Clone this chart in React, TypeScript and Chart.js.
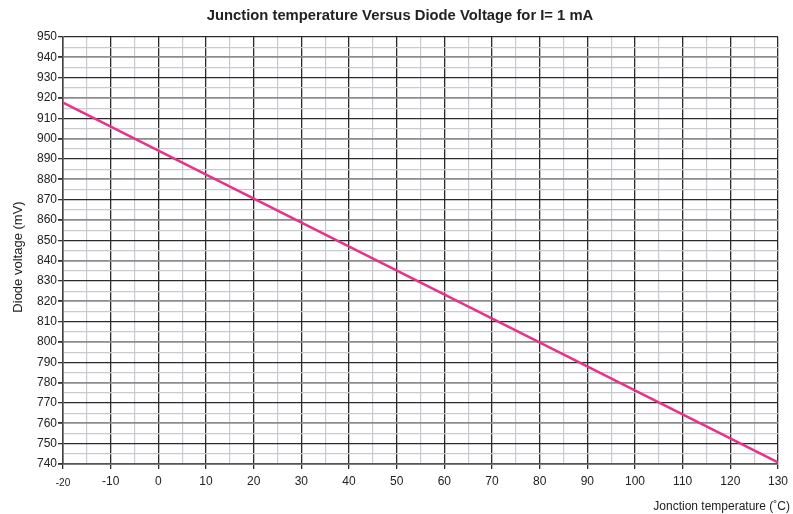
import React, { useEffect, useRef } from "react";
import { Chart, registerables } from "chart.js";

Chart.register(...registerables);

// ---- data ----
const temperatures: number[] = [-20, 130]; // °C
const diodeVoltages: number[] = [917.7, 740.8]; // mV

const chartTitle = "Junction temperature Versus Diode Voltage for I= 1 mA";
const xTitle = "Jonction temperature (˚C)";
const yTitle = "Diode voltage (mV)";

const xMin = -20;
const xMax = 130;
const yMin = 740;
const yMax = 950;

const FONT = "'Liberation Sans', Arial, Helvetica, sans-serif";
const LINE_COLOR = "#e8308c";
const MAJOR_DARK = "#2b2b2b";
const MAJOR_GRAY = "#8c8c8c";
const MINOR = "#c8cad2";

const axisTitles = {
  id: "axisTitles",
  afterDraw(chart: any) {
    const ctx = chart.ctx as CanvasRenderingContext2D;
    ctx.save();
    ctx.fillStyle = "#222";
    ctx.font = `12px ${FONT}`;
    ctx.textAlign = "right";
    ctx.textBaseline = "middle";
    ctx.fillText(xTitle, 790, 507);
    ctx.translate(18, 257);
    ctx.rotate(-Math.PI / 2);
    ctx.textAlign = "center";
    ctx.font = `13px ${FONT}`;
    ctx.fillText(yTitle, 0, 0);
    ctx.restore();
  },
};

export default function App() {
  const ref = useRef<HTMLCanvasElement | null>(null);

  useEffect(() => {
    if (!ref.current) return;
    const points = temperatures.map((t, i) => ({ x: t, y: diodeVoltages[i] }));
    const chart = new Chart(ref.current, {
      type: "line",
      data: {
        datasets: [
          {
            data: points,
            borderColor: LINE_COLOR,
            borderWidth: 2.6,
            pointRadius: 0,
            fill: false,
            tension: 0,
          },
        ],
      },
      options: {
        animation: false,
        responsive: false,
        devicePixelRatio: 1,
        layout: { padding: { left: 21, right: 14, top: 0, bottom: 0 } },
        plugins: {
          legend: { display: false },
          tooltip: { enabled: false },
          title: {
            display: true,
            text: chartTitle,
            color: "#222",
            font: { family: FONT, size: 14.8, weight: "bold" },
            padding: { top: 7, bottom: 12.2 },
          },
        },
        scales: {
          x: {
            type: "linear",
            min: xMin,
            max: xMax,
            afterFit: (scale: any) => {
              scale.height = 50;
            },
            ticks: {
              stepSize: 5,
              autoSkip: false,
              maxRotation: 0,
              padding: 5,
              color: "#222",
              font: (c: any) =>
                c.tick && c.tick.value === -20
                  ? { family: FONT, size: 10, lineHeight: 1.8 }
                  : { family: FONT, size: 12 },
              callback: (v: any) => (Number(v) % 10 === 0 ? String(v) : ""),
            },
            grid: {
              color: (c: any) =>
                c.tick && c.tick.value % 10 === 0 ? MAJOR_DARK : MINOR,
              lineWidth: (c: any) =>
                c.tick && c.tick.value % 10 === 0 ? 1.3 : 1.2,
              tickColor: (c: any) =>
                c.tick && c.tick.value % 10 === 0 ? MAJOR_DARK : "rgba(0,0,0,0)",
              tickLength: 5,
            },
            border: { color: "#555", width: 1.5 },
          },
          y: {
            type: "linear",
            min: yMin,
            max: yMax,
            afterFit: (scale: any) => {
              scale.width = 42;
            },
            ticks: {
              stepSize: 5,
              autoSkip: false,
              padding: 1,
              color: "#222",
              font: { family: FONT, size: 12 },
              callback: (v: any) => (Number(v) % 10 === 0 ? String(v) : ""),
            },
            grid: {
              color: (c: any) => {
                const v = c.tick ? c.tick.value : 0;
                if (v % 10 !== 0) return MINOR;
                return v % 20 === 0 ? MAJOR_GRAY : MAJOR_DARK;
              },
              lineWidth: (c: any) => {
                const v = c.tick ? c.tick.value : 0;
                if (v % 10 !== 0) return 1.2;
                return v % 20 === 0 ? 1.8 : 1.3;
              },
              tickColor: (c: any) =>
                c.tick && c.tick.value % 10 === 0 ? "#333" : "rgba(0,0,0,0)",
              tickLength: 5,
            },
            border: { color: "#444", width: 1.5 },
          },
        },
      },
      plugins: [axisTitles],
    });
    return () => chart.destroy();
  }, []);

  return (
    <div style={{ position: "fixed", left: 0, top: 0, width: 793, height: 514, background: "#fff" }}>
      <canvas ref={ref} width={793} height={514} style={{ display: "block" }} />
    </div>
  );
}
